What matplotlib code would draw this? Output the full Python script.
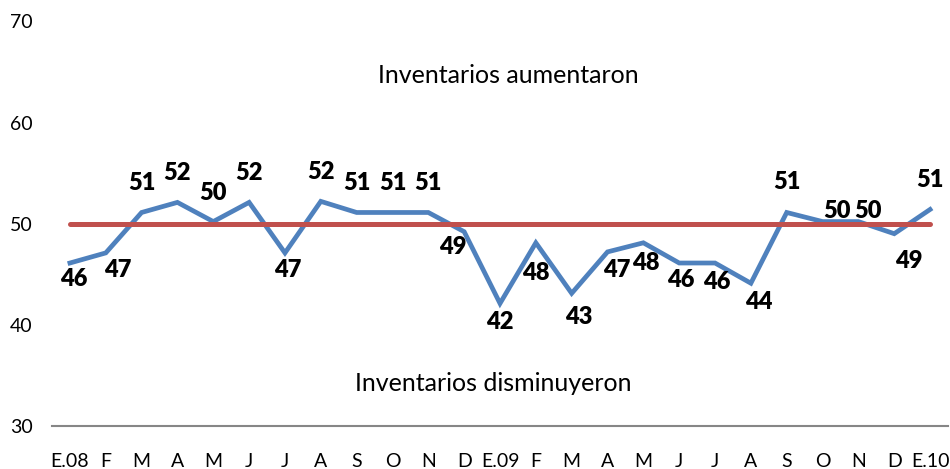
import matplotlib
matplotlib.use('Agg')
import matplotlib.pyplot as plt

# ---- data ----
months = ['E.08', 'F', 'M', 'A', 'M', 'J', 'J', 'A', 'S', 'O', 'N', 'D',
          'E.09', 'F', 'M', 'A', 'M', 'J', 'J', 'A', 'S', 'O', 'N', 'D', 'E.10']
values = [46.1, 47.1, 51.1, 52.1, 50.2, 52.1, 47.1, 52.2, 51.1, 51.1, 51.1, 49.2,
          42.1, 48.1, 43.1, 47.2, 48.1, 46.1, 46.1, 44.1, 51.1, 50.2, 50.2, 49.0, 51.4]
value_labels = [46, 47, 51, 52, 50, 52, 47, 52, 51, 51, 51, 49,
                42, 48, 43, 47, 48, 46, 46, 44, 51, 50, 50, 49, 51]
threshold = 50
y_ticks = [30, 40, 50, 60, 70]

# label offsets (pixels) relative to each point
label_dx = [4, 12, 0, 0, 0, 0, 3, 0, 0, 0, 0, -11,
            0, 0, 7, 9, 2, 2, 2, 8, 0, 14, 10, 15, 0]
label_dy = [-16, -17, 29, 29, 29, 29, -17, 29, 29, 29, 29, -15,
            -19, -30, -24, -18, -20, -17, -19, -19, 30, 11, 11, -27, 29]

plt.rcParams['font.family'] = ['Lato', 'DejaVu Sans']

fig = plt.figure(figsize=(9.5, 4.69), dpi=100)
ax = fig.add_axes([52 / 950, 1 - 425.7 / 469, 896 / 950, 404.2 / 469])

x = list(range(len(months)))
ax.plot(x, values, color='#4F81BD', lw=3.4, solid_joinstyle='miter', zorder=3)
ax.plot([x[0], x[-1]], [threshold, threshold], color='#C0504D', lw=3.6,
        solid_capstyle='round', zorder=4)

for xi, v, lab, dx, dy in zip(x, values, value_labels, label_dx, label_dy):
    ax.annotate(str(lab), xy=(xi, v), xytext=(dx, dy), textcoords='offset pixels',
                ha='center', va='center', fontsize=17, fontweight='heavy',
                color='black', zorder=5, annotation_clip=False)

ax.set_xlim(-0.5, len(months) - 0.5)
ax.set_ylim(30, 70)
ax.set_xticks(x)
ax.set_xticklabels(months)
ax.set_yticks(y_ticks)

for side in ['top', 'right', 'left']:
    ax.spines[side].set_visible(False)
ax.spines['bottom'].set_color('#868686')
ax.spines['bottom'].set_linewidth(1.5)

ax.tick_params(axis='x', length=0, pad=20, labelsize=14, colors='black')
ax.tick_params(axis='y', length=0, pad=14, labelsize=14, colors='black')

ax.text(0.509, 0.8676, 'Inventarios aumentaron', transform=ax.transAxes,
        ha='center', va='center', fontsize=18)
ax.text(0.492, 0.1056, 'Inventarios disminuyeron', transform=ax.transAxes,
        ha='center', va='center', fontsize=18)

fig.savefig('out.png', dpi=100)
